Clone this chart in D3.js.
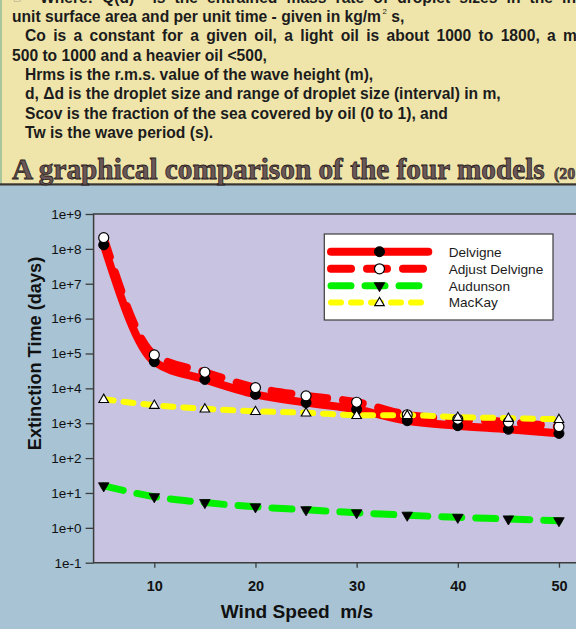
<!DOCTYPE html>
<html><head><meta charset="utf-8">
<script src="https://cdn.jsdelivr.net/npm/d3@7"></script>
<style>html,body{margin:0;padding:0;background:#a7c3d4;}svg{display:block;}</style>
</head><body>
<svg id="chart" width="576" height="629"></svg>
<script>
// ---- data ----
const windSpeed = [5, 10, 15, 20, 25, 30, 35, 40, 45, 50];
const delvigne = [1.3e8, 5.8e4, 1.8e4, 6.7e3, 3.9e3, 2.5e3, 1.18e3, 850, 670, 510];
const adjustDelvigne = [2.1e8, 9.1e4, 2.9e4, 1.05e4, 6.1e3, 4.0e3, 1.75e3, 1.3e3, 1.07e3, 800];
const audunson = [16, 7.8, 5.3, 4.0, 3.3, 2.7, 2.3, 2.0, 1.8, 1.6];
const mackay = [4.9e3, 3.3e3, 2.6e3, 2.2e3, 2.0e3, 1.7e3, 1.7e3, 1.5e3, 1.4e3, 1.3e3];
const seriesNames = ["Delvigne", "Adjust Delvigne", "Audunson", "MacKay"];
const xTicks = [10, 20, 30, 40, 50];
const yTicks = [1e-1, 1e0, 1e1, 1e2, 1e3, 1e4, 1e5, 1e6, 1e7, 1e8, 1e9];
const yTickLabels = ["1e-1","1e+0","1e+1","1e+2","1e+3","1e+4","1e+5","1e+6","1e+7","1e+8","1e+9"];
const bodyLines = [
  "Where: Q(d)  is the entrained mass rate of droplet sizes in the interval d per",
  "unit surface area and per unit time - given in kg/m",
  "Co is a constant for a given oil, a light oil is about 1000 to 1800, a medium oil is",
  "500 to 1000 and a heavier oil <500,",
  "Hrms is the r.m.s. value of the wave height (m),",
  "d, \u0394d is the droplet size and range of droplet size (interval) in m,",
  "Scov is the fraction of the sea covered by oil (0 to 1), and",
  "Tw is the wave period (s)."
];
const titleText = "A graphical comparison of the four models";

const SANS = "'Liberation Sans', Arial, sans-serif";
const SERIF = "'Liberation Serif', 'Times New Roman', serif";
const svg = d3.select("#chart");

function fit(sel, w) {
  const cur = parseFloat(sel.attr("font-size"));
  const L = sel.node().getComputedTextLength();
  sel.attr("font-size", cur * w / L);
  return cur * w / L;
}

// ---- slide background ----
svg.append("rect").attr("x", 0).attr("y", 0).attr("width", 576).attr("height", 629).attr("fill", "#a7c3d4");
svg.append("rect").attr("x", 0).attr("y", 0).attr("width", 576).attr("height", 184).attr("fill", "#efe5ab");
svg.append("rect").attr("x", 0).attr("y", 0).attr("width", 2).attr("height", 184).attr("fill", "#a8c69c");
svg.append("rect").attr("x", 0).attr("y", 183.3).attr("width", 576).attr("height", 2.2).attr("fill", "#3a3530");

// ---- body text (justified paragraphs: wrapped lines get extra word spacing) ----
const indents = [40, 12, 25, 12, 25, 25, 25, 25];
const baselines = [2.8, 22, 41.3, 60.6, 79.9, 99.2, 118.5, 137.8];
const justify = { 0: ["Where: Q(d)  is the entrained mass rate of droplet sizes in the in", 576],
                  2: ["Co is a constant for a given oil, a light oil is about 1000 to 1800, a m", 577] };
const measure = svg.append("text").attr("font-family", SANS).attr("font-weight", "bold")
  .attr("font-size", 16).text(bodyLines[1]);
const bodySize = fit(measure, 369.3);
measure.remove();
bodyLines.forEach((t, i) => {
  const tx = svg.append("text").attr("x", indents[i]).attr("y", baselines[i])
    .attr("font-family", SANS).attr("font-weight", "bold").attr("font-size", bodySize)
    .attr("fill", "#1c1c1c").style("white-space", "pre");
  tx.append("tspan").text(t);
  if (justify[i]) {
    const [pre, endX] = justify[i];
    const m = svg.append("text").attr("font-family", SANS).attr("font-weight", "bold")
      .attr("font-size", bodySize).style("white-space", "pre").text(pre);
    const w = m.node().getComputedTextLength();
    m.remove();
    const nSp = (pre.match(/ /g) || []).length;
    tx.style("word-spacing", Math.max(0, (endX - indents[i] - w) / nSp) + "px");
  }
  if (i === 1) {
    tx.append("tspan").attr("dx", 1.5).attr("dy", -8.5).attr("font-weight", "normal")
      .attr("font-size", bodySize * 0.5).text("2");
    tx.append("tspan").attr("dy", 8.5).text(" s,");
  }
});
svg.append("text").attr("x", 12).attr("y", 3).attr("font-family", "'DejaVu Sans'")
  .attr("font-size", 16).attr("fill", "#555").text("\u261E");

// ---- title ----
const title = svg.append("text").attr("x", 12).attr("y", 179)
  .attr("font-family", SERIF).attr("font-weight", "bold").attr("font-size", 26)
  .attr("fill", "#6a5858").attr("stroke", "#2a2020").attr("stroke-width", 0.8).text(titleText);
fit(title, 533);
svg.append("text").attr("x", 554).attr("y", 179)
  .attr("font-family", SERIF).attr("font-weight", "bold").attr("font-size", 16)
  .attr("fill", "#6a5858").attr("stroke", "#2a2020").attr("stroke-width", 0.6).text("(20");

// ---- chart ----
const x = d3.scaleLinear().domain([4, 52]).range([93.6, 579.2]);
const y = d3.scaleLog().domain([0.1, 1e9]).range([562.7, 214]);

svg.append("rect").attr("x", x(4)).attr("y", y(1e9)).attr("width", x(52) - x(4))
  .attr("height", y(0.1) - y(1e9)).attr("fill", "#c7c3e0");

svg.append("path").attr("d", `M${x(52)},${y(1e9)}H${x(4)}V${y(0.1)}H${x(52)}`)
  .attr("fill", "none").attr("stroke", "#3c3c3c").attr("stroke-width", 1.5);

const yAxis = svg.append("g").attr("transform", `translate(${x(4)},0)`)
  .call(d3.axisLeft(y).tickValues(yTicks).tickSize(8).tickPadding(4)
    .tickFormat((d, i) => yTickLabels[i]));
yAxis.select(".domain").remove();
yAxis.selectAll(".tick line").attr("stroke", "#3c3c3c").attr("stroke-width", 1.3);
yAxis.selectAll(".tick text").attr("font-family", SANS).attr("font-size", 13.5).attr("fill", "#111");

const xAxis = svg.append("g").attr("transform", `translate(0,${y(0.1)})`)
  .call(d3.axisBottom(x).tickValues(xTicks).tickSize(5).tickPadding(13));
xAxis.select(".domain").remove();
xAxis.selectAll(".tick line").attr("stroke", "#3c3c3c").attr("stroke-width", 1.3);
xAxis.selectAll(".tick text").attr("font-family", SANS).attr("font-weight", "bold")
  .attr("font-size", 14.5).attr("fill", "#111");

const yl = svg.append("text").attr("transform", "translate(41,353.5) rotate(-90)")
  .attr("text-anchor", "middle").attr("font-family", SANS).attr("font-weight", "bold")
  .attr("font-size", 17).attr("fill", "#111").text("Extinction Time (days)");
fit(yl, 193.5);
const xl = svg.append("text").attr("x", 297).attr("y", 617.5).attr("text-anchor", "middle")
  .attr("font-family", SANS).attr("font-weight", "bold").attr("font-size", 17)
  .attr("fill", "#111").style("white-space", "pre").text("Wind Speed  m/s");
fit(xl, 152.6);

const series = [
  { name: seriesNames[0], values: delvigne, color: "#ff0000", width: 8, dash: null, marker: "circleBlack" },
  { name: seriesNames[1], values: adjustDelvigne, color: "#ff0000", width: 8, dash: "20,16", marker: "circleWhite" },
  { name: seriesNames[2], values: audunson, color: "#00f000", width: 7, dash: "20,14", marker: "triDown" },
  { name: seriesNames[3], values: mackay, color: "#ffff00", width: 6, dash: "10,10", marker: "triUp" }
];

const line = d3.line().x(d => x(d[0])).y(d => y(d[1])).curve(d3.curveMonotoneX);

series.forEach(s => {
  const pts = windSpeed.map((w, i) => [w, s.values[i]]);
  svg.append("path").attr("d", line(pts)).attr("fill", "none")
    .attr("stroke", s.color).attr("stroke-width", s.width)
    .attr("stroke-linecap", "round").attr("stroke-linejoin", "round")
    .attr("stroke-dasharray", s.dash);
});

function drawMarker(g, type, cx, cy) {
  if (type === "circleBlack") {
    g.append("circle").attr("cx", cx).attr("cy", cy).attr("r", 5).attr("fill", "#000").attr("stroke", "#000");
  } else if (type === "circleWhite") {
    g.append("circle").attr("cx", cx).attr("cy", cy).attr("r", 5).attr("fill", "#fff").attr("stroke", "#000").attr("stroke-width", 1.2);
  } else if (type === "triDown") {
    g.append("path").attr("d", d3.symbol(d3.symbolTriangle, 48)())
      .attr("transform", `translate(${cx},${cy}) rotate(180)`).attr("fill", "#000").attr("stroke", "#000").attr("stroke-width", 0.8);
  } else {
    g.append("path").attr("d", d3.symbol(d3.symbolTriangle, 40)())
      .attr("transform", `translate(${cx},${cy + 0.5})`).attr("fill", "#fff").attr("stroke", "#000").attr("stroke-width", 1.1);
  }
}

const mg = svg.append("g");
series.forEach(s => {
  windSpeed.forEach((w, i) => drawMarker(mg, s.marker, x(w), y(s.values[i])));
});

const lg = svg.append("g");
lg.append("rect").attr("x", 324.3).attr("y", 234).attr("width", 228.7).attr("height", 86)
  .attr("fill", "#fff").attr("stroke", "#3c3c3c").attr("stroke-width", 1.2);
const rowY = [251.7, 268.8, 285.7, 302.4];
series.forEach((s, i) => {
  lg.append("line").attr("x1", 331).attr("x2", 428.3).attr("y1", rowY[i]).attr("y2", rowY[i])
    .attr("stroke", s.color).attr("stroke-width", s.width).attr("stroke-linecap", "round")
    .attr("stroke-dasharray", s.dash);
  drawMarker(lg, s.marker, 379.5, rowY[i]);
  lg.append("text").attr("x", 448.7).attr("y", rowY[i] + 4.8).attr("font-family", SANS)
    .attr("font-size", 13).attr("fill", "#1c1c1c").text(s.name);
});
fit(lg.selectAll("text").filter((d, i) => i === 1), 94.7);
const legSize = lg.selectAll("text").filter((d, i) => i === 1).attr("font-size");
lg.selectAll("text").attr("font-size", legSize);
</script>
</body></html>
